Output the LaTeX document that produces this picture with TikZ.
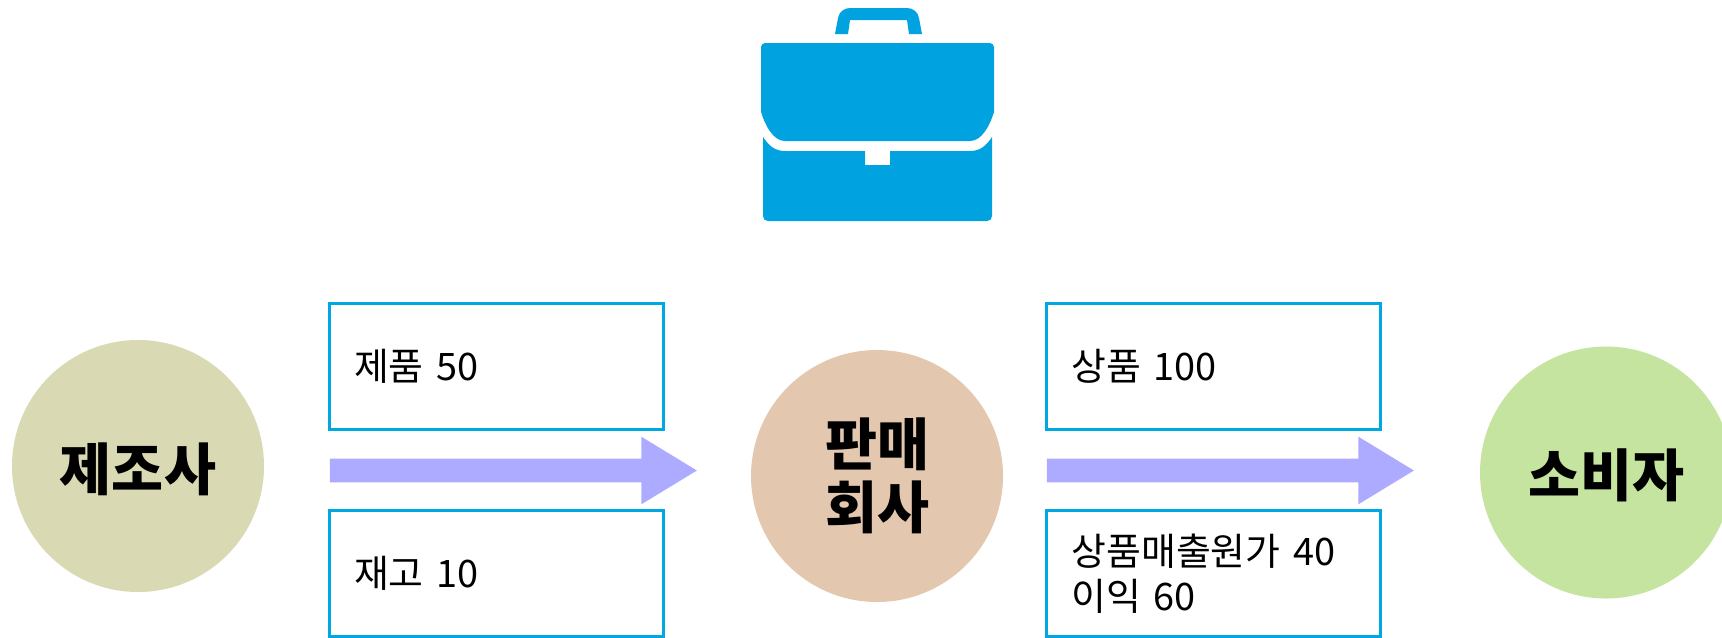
\documentclass[tikz,border=0pt]{standalone}
\usepackage{fontspec}
\usepackage{xcolor}
\usetikzlibrary{shapes.arrows}
\newfontfamily\krfont{Noto Sans CJK KR}
\definecolor{makerfill}{HTML}{D9D9B3}
\definecolor{sellerfill}{HTML}{E3C8AF}
\definecolor{buyerfill}{HTML}{C5E4A0}
\definecolor{framecol}{HTML}{00A7E1}
\definecolor{bagcol}{HTML}{00A3E0}
\definecolor{arrowcol}{HTML}{ACABFF}
\tikzset{
  party/.style={circle,minimum size=189pt,inner sep=0pt,align=center,font=\fontsize{42.4}{47}\selectfont\krfont\bfseries},
  partyline/.style={party,text height=36.6pt,text depth=0pt},
  amountbox/.style={rectangle,draw=framecol,line width=2.25pt,minimum height=94.5pt,text width=213pt,inner xsep=18.75pt,inner ysep=0pt,align=left,font=\fontsize{28.4}{34}\selectfont\krfont},
  flowarrow/.style={single arrow,fill=arrowcol,minimum width=50.25pt,minimum height=275.25pt,inner xsep=0pt,inner ysep=8.625pt,single arrow head extend=16.5pt,single arrow tip angle=62.7},
  bagpart/.style={fill=bagcol,draw=none}
}
\begin{document}
\begin{tikzpicture}[x=0.75pt,y=0.75pt,yscale=-1,xscale=1]
    \path[use as bounding box] (0,0) rectangle (1722,637);

    %Briefcase handle
    \path [bagpart] (835,34) -- (838,18) .. controls (839,12) and (844,8) .. (850,8) -- (907,8) .. controls (913,8) and (918,12) .. (919,18) -- (922,34) -- (909,34) -- (907,20) -- (850,20) -- (848,34) -- cycle ;
    %Briefcase flap
    \path [bagpart] (761,47) .. controls (761,45) and (763,43) .. (765,43) -- (990,43) .. controls (992,43) and (994,45) .. (994,47) -- (994,112) .. controls (990,125) and (982,141) .. (970,141) -- (785,141) .. controls (773,141) and (765,125) .. (761,112) -- cycle ;
    %Briefcase body
    \path [bagpart] (763,137) .. controls (769,146) and (775,151) .. (785,151) -- (865,151) -- (865,165) -- (890,165) -- (890,151) -- (970,151) .. controls (980,151) and (986,146) .. (992,137) -- (992,216) .. controls (992,219) and (990,221) .. (987,221) -- (768,221) .. controls (765,221) and (763,219) .. (763,216) -- cycle ;

    % Parties
    \node (maker) [partyline,fill=makerfill] at (138,466) {제조사};
    \node (seller) [party,fill=sellerfill] at (877,476) {판매\\회사};
    \node (buyer) [partyline,fill=buyerfill] at (1606,472.5) {소비자};

    % Amount boxes
    \node (product) [amountbox] at (496,366) {제품 50};
    \node (stock) [amountbox] at (496,573) {재고 10};
    \node (goods) [amountbox] at (1213.5,366) {상품 100};
    \node (margin) [amountbox] at (1213.5,573.5) {상품매출원가 40\\이익 60};

    % Flow arrows
    \node (flowleft) [flowarrow] at (503.7,470.5) {};
    \node (flowright) [flowarrow] at (1220.7,470.5) {};
\end{tikzpicture}
\end{document}
